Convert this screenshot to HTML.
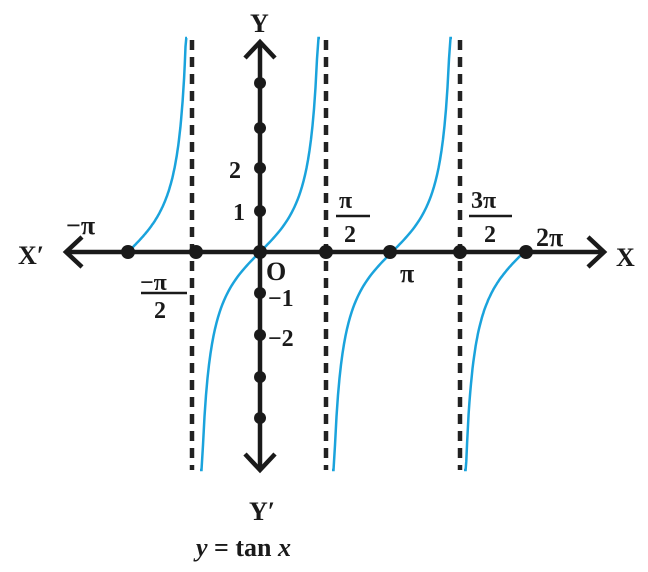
<!DOCTYPE html>
<html><head><style>body{margin:0;background:#fff}svg{display:block}</style></head><body>
<svg width="648" height="572" viewBox="0 0 648 572" xmlns="http://www.w3.org/2000/svg" font-family="Liberation Serif, serif" font-weight="bold">
<g id="curves" fill="none" stroke="#1aa3dc" stroke-width="2.5"></g>
<g stroke="#222" stroke-width="4.5" stroke-dasharray="10,7">
<line x1="192" y1="40" x2="192" y2="470"/>
<line x1="326" y1="40" x2="326" y2="470"/>
<line x1="460" y1="40" x2="460" y2="470"/>
</g>
<g stroke="#1a1a1a" stroke-width="4.5" fill="none">
<line x1="66" y1="252" x2="604" y2="252"/>
<line x1="260" y1="42" x2="260" y2="470"/>
<polyline points="82,237 66,252 82,267"/>
<polyline points="588,237 604,252 588,267"/>
<polyline points="245,58 260,42 275,58"/>
<polyline points="245,454 260,470 275,454"/>
</g>
<g fill="#1a1a1a">
<circle cx="128" cy="252" r="7"/><circle cx="196" cy="252" r="7"/><circle cx="260" cy="252" r="7"/>
<circle cx="326" cy="252" r="7"/><circle cx="390" cy="252" r="7"/><circle cx="460" cy="252" r="7"/><circle cx="526" cy="252" r="7"/>
<circle cx="260" cy="83" r="6"/><circle cx="260" cy="128" r="6"/><circle cx="260" cy="168" r="6"/><circle cx="260" cy="211" r="6"/>
<circle cx="260" cy="293" r="6"/><circle cx="260" cy="335" r="6"/><circle cx="260" cy="377" r="6"/><circle cx="260" cy="418" r="6"/>
</g>
<g fill="#1a1a1a" font-size="26">
<text x="250" y="32">Y</text>
<text x="249" y="520">Y′</text>
<text x="18" y="264">X′</text>
<text x="616" y="266">X</text>
<text x="66" y="234">−π</text>
<text x="536" y="246">2π</text>
<text x="400" y="282">π</text>
<text x="266" y="280">O</text>
<text x="233" y="220" font-size="24">1</text>
<text x="229" y="178" font-size="24">2</text>
<text x="268" y="306" font-size="24">−1</text>
<text x="268" y="346" font-size="24">−2</text>
<text x="140" y="290" font-size="24">−π</text>
<text x="154" y="318" font-size="24">2</text>
<text x="339" y="208" font-size="24">π</text>
<text x="344" y="242" font-size="24">2</text>
<text x="471" y="208" font-size="24">3π</text>
<text x="484" y="242" font-size="24">2</text>
<text x="196" y="556" font-size="26"><tspan font-style="italic">y</tspan> = tan <tspan font-style="italic">x</tspan></text>
</g>
<g stroke="#1a1a1a" stroke-width="2.5">
<line x1="141" y1="293" x2="187" y2="293"/>
<line x1="336" y1="216" x2="370" y2="216"/>
<line x1="469" y1="216" x2="512" y2="216"/>
</g>
<script>
(function(){
var g=document.getElementById('curves');
var P=132, cy=252, k=42;
function seg(c,a,b){var d='';for(var i=0;i<=80;i++){var x=a+(b-a)*i/80;var y=cy-k*Math.tan((x-c)/P*Math.PI);y=Math.max(38,Math.min(470,y));d+=(i?'L':'M')+x.toFixed(1)+','+y.toFixed(1);}
var p=document.createElementNS('http://www.w3.org/2000/svg','path');p.setAttribute('d',d);g.appendChild(p);}
seg(128,128,187);seg(260,200,320);seg(392,332,452);seg(524,464,526);
})();
</script>
</svg>
</body></html>
